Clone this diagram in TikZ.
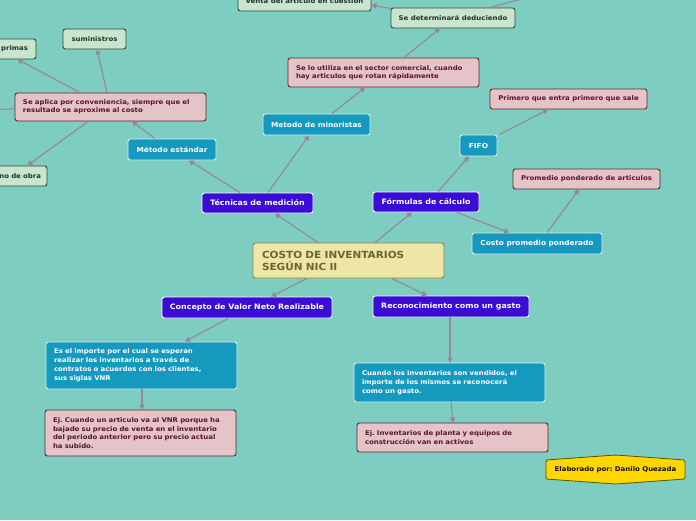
\documentclass[tikz,border=0pt]{standalone}
\usepackage{fontspec}
\setmainfont[FakeStretch=1.07]{DejaVu Sans}
\frenchspacing
\usetikzlibrary{arrows.meta,calc}
\definecolor{bg}{RGB}{125,205,192}
\definecolor{nblue}{RGB}{58,12,214}
\definecolor{nteal}{RGB}{22,153,190}
\definecolor{npink}{RGB}{229,196,200}
\definecolor{dpink}{RGB}{100,30,50}
\definecolor{tpink}{RGB}{90,20,45}
\definecolor{ngreen}{RGB}{200,230,205}
\definecolor{dgreen}{RGB}{50,70,55}
\definecolor{tgreen}{RGB}{35,50,40}
\definecolor{nyellow}{RGB}{237,230,165}
\definecolor{dyellow}{RGB}{140,130,80}
\definecolor{tyellow}{RGB}{110,100,50}
\definecolor{ngold}{RGB}{255,215,0}
\definecolor{dgold}{RGB}{90,80,0}
\definecolor{conncol}{RGB}{150,135,150}
\tikzset{
  box/.style={rounded corners=2.5pt, line width=0.9pt, inner ysep=0pt},
  sz/.style 2 args={minimum width=#1, minimum height=#2, inner xsep=0pt},
  ml/.style 2 args={text width=#1, minimum height=#2, align=left, inner xsep=8pt},
  bluebox/.style={box, fill=nblue, draw=white, text=white, font=\fontsize{7.4}{9}\selectfont\bfseries},
  tealbox/.style={box, fill=nteal, draw=white!85!nteal, text=white, font=\fontsize{6.9}{9}\selectfont\bfseries},
  tealml/.style={box, fill=nteal, draw=white!85!nteal, text=white, font=\fontsize{6.5}{9}\selectfont\bfseries},
  pinkbox/.style={box, fill=npink, draw=dpink, text=tpink, font=\fontsize{6.5}{8.4}\selectfont\bfseries},
  greenbox/.style={box, fill=ngreen, draw=dgreen, text=tgreen, font=\fontsize{6.5}{8.4}\selectfont\bfseries},
  conn/.style={draw=conncol, line width=1.1pt, -{Triangle[length=5pt,width=5.5pt]}},
  connplain/.style={draw=conncol, line width=1.1pt},
}
\begin{document}
\begin{tikzpicture}[x=1pt,y=-1pt]
\useasboundingbox[fill=bg] (0,0) rectangle (696,520);
\clip (0,0) rectangle (696,520);

% central node
\node[box, fill=nyellow, draw=dyellow, text=tyellow, font=\fontsize{9.8}{12}\selectfont\bfseries,
  ml={173pt}{35pt}, inner xsep=9pt] (c) at (348.5,260.5) {COSTO DE INVENTARIOS\\SEGÚN NIC II};

% level 1
\node[bluebox, sz={111pt}{20pt}] (tec) at (257.5,203) {Técnicas de medición};
\node[bluebox, sz={106pt}{20pt}] (form) at (426,202) {Fórmulas de cálculo};
\node[bluebox, sz={170pt}{21pt}] (vnr) at (247,307.5) {Concepto de Valor Neto Realizable};
\node[bluebox, sz={156pt}{21pt}] (rec) at (451,306.5) {Reconocimiento como un gasto};

% tecnicas branch
\node[tealbox, sz={88pt}{21pt}] (est) at (172,149.5) {Método estándar};
\node[tealbox, sz={107pt}{21pt}] (mino) at (316.5,124.5) {Metodo de minoristas};
\node[pinkbox, ml={175pt}{29pt}] (uti) at (383.5,72.5) {Se lo utiliza en el sector comercial, cuando\\hay articulos que rotan rápidamente};
\node[greenbox, sz={124pt}{20pt}] (det) at (453,18) {Se determinará deduciendo};
\node[greenbox, sz={133pt}{20pt}] (ven) at (304.5,1) {Venta del artículo en cuestión};
\node[pinkbox, ml={175pt}{28pt}] (apl) at (110.5,107) {Se aplica por conveniencia, siempre que el\\resultado se aproxime al costo};
\node[greenbox, sz={63pt}{20pt}] (sum) at (94.5,39) {suministros};
\node[greenbox, text width=82pt, align=right, minimum height=20pt, inner xsep=8pt] (pri) at (-13,49) {primas};
\node[greenbox, text width=83pt, align=right, minimum height=20pt, inner xsep=6pt] (man) at (-0.5,176) {no de obra};
\coordinate (offl) at (-40,110);
\coordinate (offr) at (540,-6);

% formulas branch
\node[tealbox, sz={37pt}{21pt}] (fifo) at (478.5,145.5) {FIFO};
\node[pinkbox, sz={157pt}{20pt}] (pri2) at (568.5,99) {Primero que entra primero que sale};
\node[tealbox, sz={130pt}{21pt}] (cpp) at (537,243.5) {Costo promedio ponderado};
\node[pinkbox, sz={147pt}{20pt}] (prom) at (586.5,179) {Promedio ponderado de articulos};

% vnr branch
\node[tealml, ml={175pt}{47pt}] (imp) at (141.5,365.5) {Es el importe por el cual se esperan\\realizar los inventarios a través de\\contratos o acuerdos con los clientes,\\sus siglas VNR};
\node[pinkbox, ml={175pt}{46pt}] (ej1) at (140.5,433) {Ej. Cuando un articulo va al VNR porque ha\\bajado su precio de venta en el inventario\\del periodo anterior pero su precio actual\\ha subido.};

% reconocimiento branch
\node[tealml, ml={175pt}{39pt}] (cua) at (449.5,382.5) {Cuando los inventarios son vendidos, el\\importe de los mismos se reconocerá\\como un gasto.};
\node[pinkbox, ml={175pt}{29pt}] (ej2) at (452.5,437.5) {Ej. Inventarios de planta y equipos de\\construcción van en activos};

% signature
\coordinate (elabc) at (615.5,469.5);
\draw[fill=ngold, draw=dgold, line width=0.8pt, rounded corners=1.5pt]
  ([xshift=-69.5pt,yshift=9.5pt]elabc) -- ([yshift=14.5pt]elabc) -- ([xshift=69.5pt,yshift=9.5pt]elabc)
  -- ([xshift=69.5pt,yshift=-9.5pt]elabc) -- ([yshift=-14.5pt]elabc) -- ([xshift=-69.5pt,yshift=-9.5pt]elabc) -- cycle;
\node[font=\fontsize{6.5}{8}\selectfont\bfseries, text=black!85!dgold, inner sep=0pt] (elab) at (elabc) {Elaborado por: Danilo Quezada};

% connectors
\draw[conn] ([xshift=-30.5pt]c.north) -- ([xshift=17.5pt]tec.south);
\draw[conn] ([xshift=26.5pt]c.north) -- ([xshift=-14pt]form.south);
\draw[conn] ([xshift=-41.5pt]c.south) -- ([xshift=24pt]vnr.north);
\draw[conn] ([xshift=43.5pt]c.south) -- ([xshift=-24pt]rec.north);
\draw[conn] ([xshift=-17.5pt]tec.north) -- ([xshift=17pt]est.south);
\draw[conn] ([xshift=10.5pt]tec.north) -- ([xshift=-7.5pt]mino.south);
\draw[conn] ([xshift=-17pt]est.north) -- ([xshift=21.5pt]apl.south);
\draw[conn] ([xshift=-3.5pt]apl.north) -- ([xshift=2.5pt]sum.south);
\draw[conn] ([xshift=-30.5pt]apl.north) -- ([xshift=-19pt]pri.south east);
\draw[conn] ([xshift=-22.5pt]apl.south) -- ([xshift=-20pt]man.north east);
\draw[connplain] ([yshift=-2pt]apl.west) -- (offl);
\draw[conn] ([xshift=15.5pt]mino.north) -- ([xshift=-18.5pt]uti.south);
\draw[conn] ([xshift=20.5pt]uti.north) -- ([xshift=-13pt]det.south);
\draw[conn] ([yshift=-1pt]det.north west) -- ([yshift=-4pt]ven.east);
\draw[connplain] ([xshift=37pt]det.north) -- (offr);
\draw[conn] ([xshift=12pt]form.north) -- ([xshift=-9.5pt]fifo.south);
\draw[conn] ([xshift=2pt]fifo.north east) -- ([xshift=-20.5pt]pri2.south);
\draw[conn] ([xshift=31pt]form.south) -- ([xshift=-28pt]cpp.north);
\draw[conn] ([xshift=10pt]cpp.north) -- ([xshift=-7.5pt]prom.south);
\draw[conn] ([xshift=-19pt]vnr.south) -- ([xshift=43.5pt]imp.north);
\draw[conn] ([xshift=0.5pt]imp.south) -- ([xshift=1.5pt]ej1.north);
\draw[conn] ([xshift=-1pt]rec.south) -- ([xshift=0.5pt]cua.north);
\draw[conn] ([xshift=1.5pt]cua.south) -- ([xshift=0.5pt]ej2.north);
\end{tikzpicture}
\end{document}
